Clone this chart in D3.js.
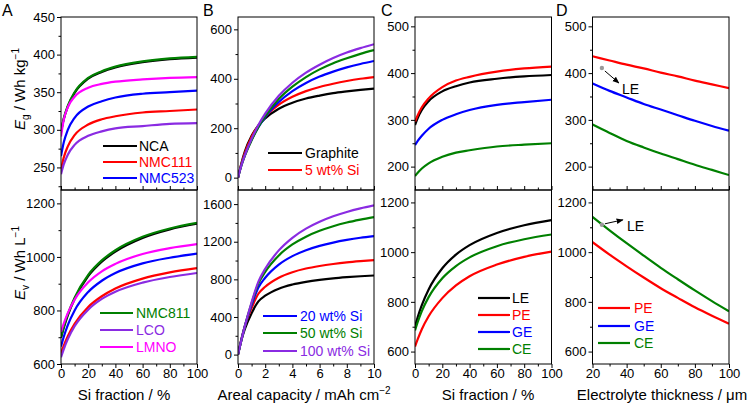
<!DOCTYPE html>
<html><head><meta charset="utf-8">
<script src="https://cdn.jsdelivr.net/npm/d3@7"></script>
<style>body{margin:0;background:#fff}svg{display:block}</style>
</head><body>
<script>
// ---------- DATA ----------
const siFrac    = [0,2,5,10,20,30,40,60,80,100];
const arealCap  = [0,0.25,0.5,1,1.5,2,3,4,5,6,7,8,9,10];
const thickness = [20,30,40,50,60,70,80,90,100];

// Panel A (cathodes) - gravimetric / volumetric energy vs Si fraction
const egNCA    = [297,314,331,349,368,377,383,390,394,396];
const egNMC111 = [247,263,278,293,307,314,318,323,325,327];
const egNMC523 = [265,283,300,316,331,338,343,348,350,352];
const egNMC811 = [298,315,332,350,369,378,384,391,395,397];
const egLCO    = [241,254,267,280,292,298,302,305,308,309];
const egLMNO   = [291,313,330,344,356,361,364,367,369,370];
const evNCA    = [698,735,782,843,928,982,1020,1071,1103,1124];
const evNMC111 = [640,668,704,750,813,853,882,919,942,958];
const evNMC523 = [665,701,745,800,869,911,940,976,997,1012];
const evNMC811 = [700,738,786,848,933,987,1025,1075,1106,1127];
const evLCO    = [625,655,693,741,803,843,870,904,925,940];
const evLMNO   = [720,751,790,840,905,946,974,1011,1033,1048];

// Panel B (anodes) vs areal capacity
const egGraphite = [0,58,105,169,211,240,279,303,320,332,342,349,355,360];
const eg5Si      = [0,55,99,165,211,246,295,327,350,367,380,391,400,407];
const eg20Si     = [0,50,90,153,204,245,306,350,383,409,429,446,460,472];
const eg50Si     = [0,49,88,151,205,249,318,368,407,438,463,483,501,516];
const eg100Si    = [0,50,90,157,213,259,331,384,425,457,484,506,524,540];
const evGraphite = [0,153,270,440,566,626,701,745,774,795,811,823,833,841];
const ev5Si      = [0,165,300,495,647,722,818,876,915,942,963,980,993,1004];
const ev20Si     = [0,160,300,527,712,817,957,1047,1110,1156,1191,1219,1242,1260];
const ev50Si     = [0,156,300,547,754,879,1054,1171,1254,1316,1365,1404,1435,1462];
const ev100Si    = [0,153,300,556,775,912,1108,1242,1339,1412,1470,1516,1554,1586];

// Panel C (electrolytes) vs Si fraction
const egLE = [289,304,321,340,361,372,380,388,393,396];
const egPE = [296,310,327,346,370,384,392,403,410,414];
const egGE = [246,255,266,281,300,312,321,332,338,343];
const egCE = [180,187,196,207,221,230,235,243,247,250];
const evLE = [700,739,787,850,935,990,1028,1077,1108,1129];
const evPE = [620,650,690,742,815,866,903,950,981,1002];
const evCE = [685,719,763,819,895,944,979,1024,1052,1071];

// Panel D vs electrolyte thickness
const egPEd = [436,427,418,410,401,393,384,376,368];
const egGEd = [378,362,348,334,322,310,298,287,277];
const egCEd = [290,272,255,241,228,216,204,193,182];
const evPEd = [1040,990,943,898,855,816,778,744,712];
const evCEd = [1142,1088,1036,986,937,891,846,803,762];
const leEgPoint = [25.5, 411];
const leEvPoint = [25.5, 1110];

// tick labels
const xTicksSi   = [0,20,40,60,80,100];
const xTicksArea = [0,2,4,6,8,10];
const xTicksThk  = [20,40,60,80,100];

// ---------- STYLE ----------
const C = {black:"#000000", red:"#ff0000", blue:"#0000ff", green:"#008000", purple:"#8a2be2", magenta:"#ff00ff", gray:"#999999"};
const FONT = "'Liberation Sans', Arial, Helvetica, sans-serif";
const W = 747, H = 404;
const yTop = 17, yMid = 190, yBot = 364;
const fmt = d3.format("d");

const svg = d3.select("body").append("svg").attr("width", W).attr("height", H)
  .style("font-family", FONT);
const defs = svg.append("defs");
defs.append("marker").attr("id","arrow").attr("viewBox","0 0 10 10")
  .attr("refX",9).attr("refY",5).attr("markerWidth",7).attr("markerHeight",7)
  .attr("orient","auto-start-reverse").attr("markerUnits","userSpaceOnUse")
  .append("path").attr("d","M0,1 L10,5 L0,9 Z").attr("fill","#000");

let clipId = 0;
function range(a,b,s){const r=[];for(let v=a;v<=b+1e-9;v+=s)r.push(+v.toFixed(6));return r;}

function subplot(cfg){
  const {x0,x1,y0,y1,xDom,yDom,yMajor,yMinor,xMajor,xMinor,bottom,series} = cfg;
  const x = d3.scaleLinear().domain(xDom).range([x0,x1]);
  const y = d3.scaleLinear().domain(yDom).range([y1,y0]);
  const g = svg.append("g");
  const id = "clip"+(clipId++);
  defs.append("clipPath").attr("id",id).append("rect")
    .attr("x",x0).attr("y",y0).attr("width",x1-x0).attr("height",y1-y0);

  const line = d3.line().x(d=>x(d[0])).y(d=>y(d[1])).curve(d3.curveMonotoneX);
  const cg = g.append("g").attr("clip-path",`url(#${id})`);
  series.forEach(s=>{
    cg.append("path").datum(s.xs.map((v,i)=>[v,s.ys[i]]))
      .attr("d",line).attr("fill","none").attr("stroke",s.color)
      .attr("stroke-width",2.2).attr("stroke-linejoin","round");
  });

  g.append("rect").attr("x",x0).attr("y",y0).attr("width",x1-x0).attr("height",y1-y0)
    .attr("fill","none").attr("stroke","#000").attr("stroke-width",1);

  const ya = g.append("g").attr("transform",`translate(${x0},0)`)
    .call(d3.axisLeft(y).tickValues(yMajor).tickFormat(fmt).tickSize(4).tickPadding(2).tickSizeOuter(0));
  ya.select(".domain").remove();
  ya.selectAll("text").attr("font-size",13).attr("font-family",FONT).attr("fill","#000");
  const ym = g.append("g").attr("transform",`translate(${x0},0)`)
    .call(d3.axisLeft(y).tickValues(yMinor).tickSize(2.5).tickFormat(""));
  ym.select(".domain").remove();

  if(bottom){
    const xa = g.append("g").attr("transform",`translate(0,${y1})`)
      .call(d3.axisBottom(x).tickValues(xMajor).tickFormat(fmt).tickSize(4).tickPadding(1).tickSizeOuter(0));
    xa.select(".domain").remove();
    xa.selectAll("text").attr("font-size",13).attr("font-family",FONT).attr("fill","#000");
    const xm = g.append("g").attr("transform",`translate(0,${y1})`)
      .call(d3.axisBottom(x).tickValues(xMinor).tickSize(2.5).tickFormat(""));
    xm.select(".domain").remove();
  } else {
    const xa = g.append("g").attr("transform",`translate(0,${y1})`)
      .call(d3.axisTop(x).tickValues(xMajor).tickSize(4).tickFormat("").tickSizeOuter(0));
    xa.select(".domain").remove();
    const xm = g.append("g").attr("transform",`translate(0,${y1})`)
      .call(d3.axisTop(x).tickValues(xMinor).tickSize(2.5).tickFormat(""));
    xm.select(".domain").remove();
  }
  return {x,y,g};
}

function legend(items, lx0, lx1, tx, rows){
  items.forEach((it,i)=>{
    svg.append("line").attr("x1",lx0).attr("x2",lx1).attr("y1",rows[i]).attr("y2",rows[i])
      .attr("stroke",it.color).attr("stroke-width",2.2);
    svg.append("text").attr("x",tx).attr("y",rows[i]+5).attr("font-size",14)
      .attr("fill",it.color).text(it.label);
  });
}

function letter(t, x){
  svg.append("text").attr("x",x).attr("y",15.5).attr("font-size",16).attr("fill","#000").text(t);
}

// ---------- PANEL A ----------
const Ax0=61, Ax1=197;
subplot({x0:Ax0,x1:Ax1,y0:yTop,y1:yMid,xDom:[0,100],yDom:[220,450],
  yMajor:[250,300,350,400,450],yMinor:[225,275,325,375,425],
  xMajor:xTicksSi,xMinor:range(10,90,20),bottom:false,
  series:[
    {xs:siFrac,ys:egNCA,color:C.black},{xs:siFrac,ys:egNMC111,color:C.red},
    {xs:siFrac,ys:egNMC523,color:C.blue},{xs:siFrac,ys:egNMC811,color:C.green},
    {xs:siFrac,ys:egLCO,color:C.purple},{xs:siFrac,ys:egLMNO,color:C.magenta}]});
subplot({x0:Ax0,x1:Ax1,y0:yMid,y1:yBot,xDom:[0,100],yDom:[600,1250],
  yMajor:[600,800,1000,1200],yMinor:[700,900,1100],
  xMajor:xTicksSi,xMinor:range(10,90,20),bottom:true,
  series:[
    {xs:siFrac,ys:evNCA,color:C.black},{xs:siFrac,ys:evNMC111,color:C.red},
    {xs:siFrac,ys:evNMC523,color:C.blue},{xs:siFrac,ys:evNMC811,color:C.green},
    {xs:siFrac,ys:evLCO,color:C.purple},{xs:siFrac,ys:evLMNO,color:C.magenta}]});
legend([{label:"NCA",color:C.black},{label:"NMC111",color:C.red},{label:"NMC523",color:C.blue}],
  103,137,139,[146,162,178]);
legend([{label:"NMC811",color:C.green},{label:"LCO",color:C.purple},{label:"LMNO",color:C.magenta}],
  100,133,136,[313,330,347]);
letter("A",2);

// ---------- PANEL B ----------
const Bx0=238, Bx1=374;
subplot({x0:Bx0,x1:Bx1,y0:yTop,y1:yMid,xDom:[0,10],yDom:[-50,650],
  yMajor:[0,200,400,600],yMinor:[100,300,500],
  xMajor:xTicksArea,xMinor:range(1,9,2),bottom:false,
  series:[
    {xs:arealCap,ys:egGraphite,color:C.black},{xs:arealCap,ys:eg5Si,color:C.red},
    {xs:arealCap,ys:eg20Si,color:C.blue},{xs:arealCap,ys:eg50Si,color:C.green},
    {xs:arealCap,ys:eg100Si,color:C.purple}]});
subplot({x0:Bx0,x1:Bx1,y0:yMid,y1:yBot,xDom:[0,10],yDom:[-100,1750],
  yMajor:[0,400,800,1200,1600],yMinor:[200,600,1000,1400],
  xMajor:xTicksArea,xMinor:range(1,9,2),bottom:true,
  series:[
    {xs:arealCap,ys:evGraphite,color:C.black},{xs:arealCap,ys:ev5Si,color:C.red},
    {xs:arealCap,ys:ev20Si,color:C.blue},{xs:arealCap,ys:ev50Si,color:C.green},
    {xs:arealCap,ys:ev100Si,color:C.purple}]});
legend([{label:"Graphite",color:C.black},{label:"5 wt% Si",color:C.red}],268,302,305,[153,170]);
legend([{label:"20 wt% Si",color:C.blue},{label:"50 wt% Si",color:C.green},{label:"100 wt% Si",color:C.purple}],
  263,297,300,[316,333,351]);
letter("B",203);

// ---------- PANEL C ----------
const Cx0=415, Cx1=551.5;
subplot({x0:Cx0,x1:Cx1,y0:yTop,y1:yMid,xDom:[0,100],yDom:[150,520],
  yMajor:[200,300,400,500],yMinor:[250,350,450],
  xMajor:xTicksSi,xMinor:range(10,90,20),bottom:false,
  series:[
    {xs:siFrac,ys:egLE,color:C.black},{xs:siFrac,ys:egPE,color:C.red},
    {xs:siFrac,ys:egGE,color:C.blue},{xs:siFrac,ys:egCE,color:C.green}]});
subplot({x0:Cx0,x1:Cx1,y0:yMid,y1:yBot,xDom:[0,100],yDom:[550,1250],
  yMajor:[600,800,1000,1200],yMinor:[700,900,1100],
  xMajor:xTicksSi,xMinor:range(10,90,20),bottom:true,
  series:[
    {xs:siFrac,ys:evLE,color:C.black},{xs:siFrac,ys:evPE,color:C.red},
    {xs:siFrac,ys:evCE,color:C.green}]});
legend([{label:"LE",color:C.black},{label:"PE",color:C.red},{label:"GE",color:C.blue},{label:"CE",color:C.green}],
  478,510,512,[298,315,332,349]);
letter("C",381);

// ---------- PANEL D ----------
const Dx0=592.5, Dx1=729;
const dTop = subplot({x0:Dx0,x1:Dx1,y0:yTop,y1:yMid,xDom:[20,100],yDom:[150,520],
  yMajor:[200,300,400,500],yMinor:[250,350,450],
  xMajor:xTicksThk,xMinor:range(30,90,20),bottom:false,
  series:[
    {xs:thickness,ys:egPEd,color:C.red},{xs:thickness,ys:egGEd,color:C.blue},
    {xs:thickness,ys:egCEd,color:C.green}]});
const dBot = subplot({x0:Dx0,x1:Dx1,y0:yMid,y1:yBot,xDom:[20,100],yDom:[550,1250],
  yMajor:[600,800,1000,1200],yMinor:[700,900,1100],
  xMajor:xTicksThk,xMinor:range(30,90,20),bottom:true,
  series:[
    {xs:thickness,ys:evPEd,color:C.red},{xs:thickness,ys:evCEd,color:C.green}]});
legend([{label:"PE",color:C.red},{label:"GE",color:C.blue},{label:"CE",color:C.green}],
  598,630,634,[308,326,343]);
letter("D",556);

// LE annotations in D
(function(){
  const s=dTop, px=s.x(leEgPoint[0]), py=s.y(leEgPoint[1]);
  svg.append("circle").attr("cx",px).attr("cy",py).attr("r",2.2).attr("fill",C.gray);
  svg.append("line").attr("x1",px+3).attr("y1",py+3).attr("x2",px+17).attr("y2",py+15)
    .attr("stroke","#000").attr("stroke-width",1).attr("marker-end","url(#arrow)");
  svg.append("text").attr("x",px+20).attr("y",py+26).attr("font-size",14).text("LE");
  const b=dBot, qx=b.x(leEvPoint[0]), qy=b.y(leEvPoint[1]);
  svg.append("circle").attr("cx",qx).attr("cy",qy).attr("r",2.2).attr("fill",C.gray);
  svg.append("line").attr("x1",qx+3).attr("y1",qy-1).attr("x2",qx+21).attr("y2",qy-5)
    .attr("stroke","#000").attr("stroke-width",1).attr("marker-end","url(#arrow)");
  svg.append("text").attr("x",qx+25).attr("y",qy+6).attr("font-size",14).text("LE");
})();

// ---------- AXIS TITLES ----------
function xTitle(cx, main, sup){
  const t = svg.append("text").attr("x",cx).attr("y",400).attr("text-anchor","middle")
    .attr("font-size",15).attr("fill","#000");
  t.append("tspan").text(main);
  if(sup) t.append("tspan").attr("font-size",10).attr("dy",-6).text(sup);
}
xTitle(124,"Si fraction / %");
xTitle(304,"Areal capacity / mAh cm","\u22122");
xTitle(488,"Si fraction / %");
xTitle(662,"Electrolyte thickness / \u03bcm");

function yTitle(cy, sub, unit, sup){
  const t = svg.append("text").attr("transform",`translate(25,${cy}) rotate(-90)`)
    .attr("text-anchor","middle").attr("font-size",15).attr("fill","#000");
  t.append("tspan").attr("font-style","italic").text("E");
  t.append("tspan").attr("font-size",10).attr("dy",4).text(sub);
  t.append("tspan").attr("dy",-4).text(" / Wh "+unit);
  t.append("tspan").attr("font-size",10).attr("dy",-6).text(sup);
}
yTitle(89,"g","kg","\u22121");
yTitle(263,"v","L","\u22121");
</script>
</body></html>
